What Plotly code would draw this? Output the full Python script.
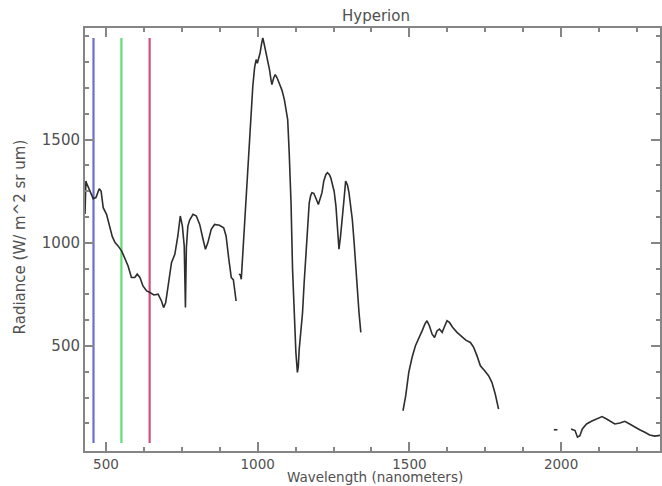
import plotly.graph_objects as go

# ---- data ----
seg1_wl = [431, 432, 434, 436, 442, 450, 458, 467, 478, 484, 491, 502, 513, 521, 530, 540,
           552, 562, 573, 584, 595, 603, 612, 622, 634, 645, 658, 672, 683, 690, 697, 705,
           716, 727, 737, 745, 752, 758, 762, 765, 770, 776, 787, 798, 809, 820, 828, 836,
           847, 858, 874, 888, 896, 905, 913, 920, 929]
seg1_rad = [1140, 1230, 1300, 1290, 1267, 1240, 1214, 1219, 1262, 1251, 1170, 1138, 1081, 1030, 1001, 985,
            960, 928, 888, 832, 832, 848, 832, 791, 767, 759, 747, 751, 718, 686, 711, 791,
            904, 944, 1033, 1130, 1081, 985, 686, 975, 1081, 1110, 1138, 1130, 1089, 1017, 969, 1001,
            1065, 1089, 1085, 1073, 1033, 920, 832, 820, 718]

seg2_wl = [938, 943, 946, 951, 957, 962, 968, 973, 979, 984, 990, 995, 999, 1003, 1008, 1013,
           1017, 1022, 1028, 1033, 1039, 1044, 1047, 1053, 1058, 1064, 1071, 1080, 1088, 1094, 1099, 1104,
           1110, 1115, 1121, 1126, 1131, 1134, 1137, 1142, 1148, 1153, 1159, 1164, 1170, 1175, 1179, 1185,
           1190, 1195, 1200, 1206, 1212, 1218, 1225, 1230, 1236, 1241, 1246, 1252, 1258, 1263, 1268, 1273,
           1277, 1284, 1290, 1296, 1301, 1307, 1312, 1318, 1323, 1329, 1334, 1340]
seg2_rad = [848, 845, 823, 953, 1080, 1194, 1370, 1517, 1650, 1759, 1850, 1888, 1870, 1888, 1920, 1965,
            1993, 1960, 1920, 1880, 1839, 1790, 1767, 1800, 1815, 1800, 1775, 1740, 1694, 1650, 1597, 1436,
            1194, 872, 630, 469, 372, 400, 485, 560, 662, 800, 953, 1080, 1194, 1230, 1243, 1240,
            1226, 1205, 1186, 1210, 1243, 1300, 1331, 1340, 1331, 1315, 1291, 1250, 1178, 1060, 969, 1030,
            1081, 1200, 1299, 1280, 1243, 1180, 1113, 1000, 888, 780, 662, 566]

seg3_wl = [1479, 1488, 1498, 1509, 1520, 1531, 1542, 1551, 1558, 1566, 1575, 1583, 1591, 1599, 1608, 1617,
           1624, 1632, 1643, 1657, 1671, 1686, 1701, 1712, 1723, 1734, 1748, 1761, 1772, 1783, 1794]
seg3_rad = [186, 259, 372, 445, 501, 533, 573, 606, 622, 598, 557, 541, 573, 582, 566, 598,
            622, 614, 590, 566, 546, 528, 517, 493, 452, 404, 380, 356, 324, 267, 194]

seg4a_wl = [1976, 1988]
seg4a_rad = [94, 94]

seg4_wl = [2033, 2046, 2054, 2062, 2070, 2084, 2100, 2117, 2135, 2150, 2161, 2177, 2194, 2210, 2226, 2243,
           2259, 2276, 2292, 2309, 2326, 2340]
seg4_rad = [98, 90, 58, 65, 98, 122, 135, 145, 158, 146, 135, 122, 127, 135, 122, 106,
            94, 82, 69, 63, 65, 70]

band_wl = [459, 551, 644]
band_colors = ["#6c6cd2", "#62dc76", "#d0507a"]
band_span = [30, 1993]

x_major = [500, 1000, 1500, 2000]
x_minor = [625, 750, 875, 1125, 1250, 1375, 1625, 1750, 1875, 2125, 2250]
y_major = [500, 1000, 1500]
y_minor = [125, 250, 375, 625, 750, 875, 1125, 1250, 1375, 1625, 1750, 1875, 2000]

FONT = "DejaVu Sans"
TXT = "#505050"
AX = "#858585"

fig = go.Figure()
for wl, col in zip(band_wl, band_colors):
    fig.add_trace(go.Scatter(x=[wl, wl], y=band_span, mode="lines",
                             line=dict(color=col, width=2.2), showlegend=False, hoverinfo="skip"))

for wl, rad in [(seg1_wl, seg1_rad), (seg2_wl, seg2_rad), (seg3_wl, seg3_rad),
                (seg4a_wl, seg4a_rad), (seg4_wl, seg4_rad)]:
    fig.add_trace(go.Scatter(x=wl, y=rad, mode="lines",
                             line=dict(color="#2e2e2e", width=1.6), showlegend=False, hoverinfo="skip"))

axis_common = dict(showgrid=False, zeroline=False, showline=True, linecolor=AX, linewidth=2,
                   mirror="ticks", ticks="inside", ticklen=9, tickwidth=1.5, tickcolor=AX)

fig.update_layout(
    width=662, height=486, autosize=False,
    margin=dict(l=85, r=0, t=28, b=35),
    paper_bgcolor="white", plot_bgcolor="white",
    xaxis=dict(range=[431, 2326], tickmode="array", tickvals=x_major,
               tickfont=dict(family=FONT, size=13.5, color=TXT),
               minor=dict(tickmode="array", tickvals=x_minor, ticks="inside", ticklen=4,
                          tickwidth=1.5, tickcolor=AX),
               **axis_common),
    yaxis=dict(range=[-9, 2041], tickmode="array", tickvals=y_major,
               tickfont=dict(family=FONT, size=15, color=TXT),
               minor=dict(tickmode="array", tickvals=y_minor, ticks="inside", ticklen=4,
                          tickwidth=1.5, tickcolor=AX),
               **axis_common),
    annotations=[
        dict(text="Hyperion", xref="paper", yref="paper", x=0.506, y=1, yshift=12,
             xanchor="center", yanchor="middle", showarrow=False,
             font=dict(family=FONT, size=15, color=TXT)),
        dict(text="Wavelength (nanometers)", xref="paper", yref="paper", x=0.504, y=0, yshift=-35,
             xanchor="center", yanchor="bottom", showarrow=False, borderpad=0,
             font=dict(family=FONT, size=13.5, color=TXT)),
        dict(text="Radiance (W/ m^2 sr um)", xref="paper", yref="paper", x=0, xshift=-65, y=0.505,
             xanchor="center", yanchor="middle", textangle=-90, showarrow=False,
             font=dict(family=FONT, size=15, color=TXT)),
    ],
)

fig.write_html("out.html")
